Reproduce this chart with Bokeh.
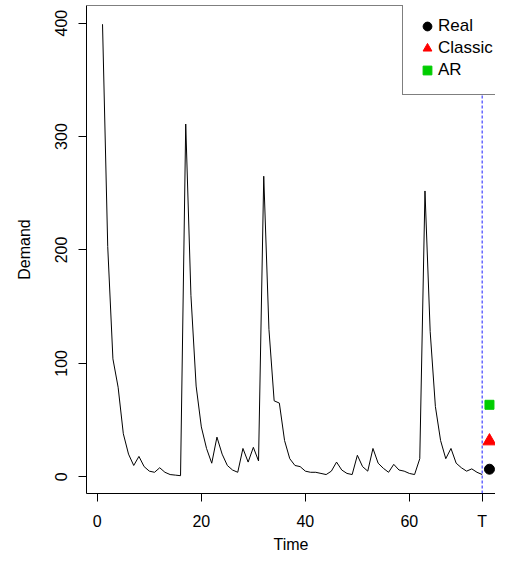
from bokeh.plotting import figure
from bokeh.models import Range1d, FixedTicker, Span, Legend, LegendItem
from bokeh.embed import file_html
from bokeh.resources import INLINE

# ---- data ----
time = list(range(1, 75))
demand = [
    399, 203, 104, 79, 38, 20, 10, 18, 9, 5,
    4, 8, 4, 2, 1.5, 1, 311, 160, 80, 44,
    25, 12, 35, 20, 10, 6, 4, 25, 13, 26,
    14, 265, 130, 67, 65, 32, 16, 10, 9, 5,
    4, 4, 3, 2, 5, 13, 6, 3, 2, 19,
    9, 5, 25, 12, 7.5, 4, 11, 6, 5, 3,
    2, 16, 252, 128, 62, 32, 16, 25, 12, 8,
    5, 7, 4, 2,
]
T = 74
forecast_x = [75.4]
real_val = [6.7]
classic_val = [31.5]
ar_val = [63.5]
x_ticks = [0, 20, 40, 60, T]
y_ticks = [0, 100, 200, 300, 400]
series_labels = ["Real", "Classic", "AR"]

FONT = "Liberation Sans"

p = figure(width=495, height=555, output_backend="svg", toolbar_location=None,
           x_range=Range1d(-2.08, 76.56), y_range=Range1d(-14.7, 415.5),
           min_border_left=86, min_border_right=0, min_border_top=5,
           min_border_bottom=60)
p.outline_line_color = None
p.grid.visible = False
p.background_fill_color = "white"
p.border_fill_color = "white"

for ax in (p.xaxis[0], p.yaxis[0]):
    ax.minor_tick_line_color = None
    ax.major_tick_in = 0
    ax.major_tick_out = 8
    ax.major_tick_line_color = "black"
    ax.axis_line_color = "black"
    ax.major_label_text_font = FONT
    ax.major_label_text_font_size = "16px"
    ax.major_label_text_color = "black"
    ax.major_label_standoff = 11
    ax.axis_label_text_font = FONT
    ax.axis_label_text_font_size = "16px"
    ax.axis_label_text_font_style = "normal"
    ax.axis_label_text_color = "black"

p.xaxis.ticker = FixedTicker(ticks=x_ticks)
p.xaxis.major_label_overrides = {T: "T"}
p.xaxis.axis_label = "Time"
p.xaxis.axis_label_standoff = 3

p.yaxis.ticker = FixedTicker(ticks=y_ticks)
p.yaxis.major_label_orientation = "vertical"
p.yaxis.axis_label = "Demand"
p.yaxis.axis_label_standoff = 20

# top border of the box
p.add_layout(Span(location=p.y_range.end, dimension="width",
                  line_color="black", line_width=1))

# series
p.line(time, demand, line_color="black", line_width=1)

# vertical dashed line at T
p.add_layout(Span(location=T, dimension="height", line_color="#0000FF",
                  line_alpha=0.75, line_dash="3 2", line_width=1.2))

r_real = p.scatter(forecast_x, real_val, marker="circle", size=10, color="black")
r_cls = p.scatter(forecast_x, classic_val, marker="triangle", size=13, color="#FF0000")
r_ar = p.scatter(forecast_x, ar_val, marker="square", size=9, color="#00CD00")

legend = Legend(items=[
    LegendItem(label=series_labels[0], renderers=[r_real]),
    LegendItem(label=series_labels[1], renderers=[r_cls]),
    LegendItem(label=series_labels[2], renderers=[r_ar]),
], location=(316, 398))
legend.label_text_font = FONT
legend.label_text_font_size = "17px"
legend.label_text_color = "black"
legend.label_standoff = 0
legend.glyph_width = 22
legend.glyph_height = 22
legend.label_height = 22
legend.spacing = 0
legend.padding = 13
legend.margin = 0
legend.border_line_color = "black"
legend.border_line_width = 1
legend.background_fill_color = "white"
legend.background_fill_alpha = 1.0
p.add_layout(legend)

open("out.html", "w").write(file_html(p, INLINE))
